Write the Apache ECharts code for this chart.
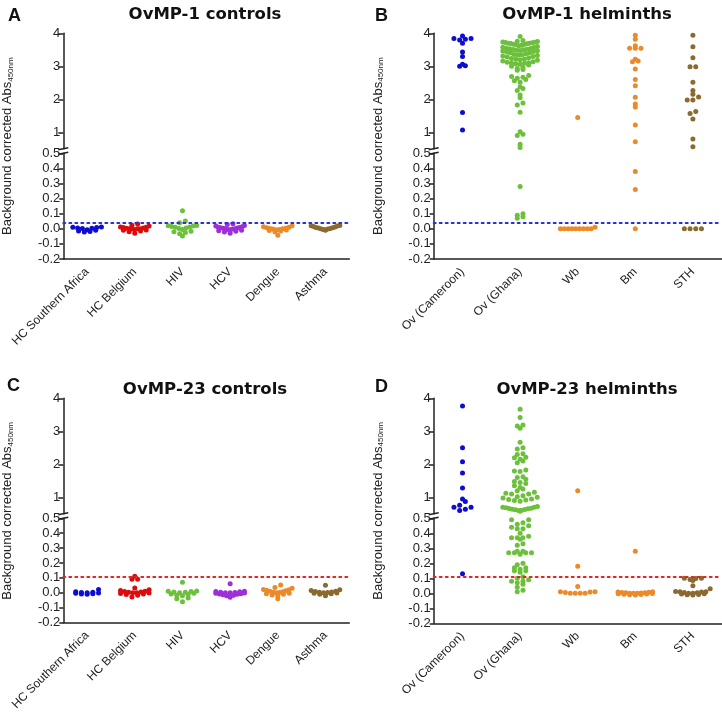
<!DOCTYPE html>
<html><head><meta charset="utf-8">
<script src="https://cdn.jsdelivr.net/npm/echarts@6/dist/echarts.min.js"></script>
<style>html,body{margin:0;padding:0;background:#fff}#c{width:722px;height:713px}</style>
</head><body><div id="c"></div>
<script>
// ---------- categories & ticks ----------
const controlCats = ['HC Southern Africa', 'HC Belgium', 'HIV', 'HCV', 'Dengue', 'Asthma'];
const helminthCats = ['Ov (Cameroon)', 'Ov (Ghana)', 'Wb', 'Bm', 'STH'];
const yUpperTicks = [1, 2, 3, 4];
const yLowerTicks = [-0.2, -0.1, 0, 0.1, 0.2, 0.3, 0.4, 0.5];
const cutoffOvMP1 = 0.045;
const cutoffOvMP23 = 0.11;

// ---------- A: OvMP-1 controls ----------
const a_hcSouthernAfrica = [0.012, 0.011, 0.009, 0.006, 0.002, -0.006, -0.014, -0.022, -0.018, -0.010, 0.004];
const a_hcBelgium = [0.032, 0.024, 0.018, 0.012, 0.010, 0.008, 0.005, 0.003, 0.001, 0.000, 0.000, -0.002, -0.005, -0.008, -0.010, -0.014, -0.020, -0.030];
const a_hiv = [0.120, 0.052, 0.040, 0.022, 0.020, 0.018, 0.015, 0.012, 0.010, 0.006, 0.002, -0.004, -0.016, -0.020, -0.024, -0.032, -0.048];
const a_hcv = [0.034, 0.028, 0.022, 0.018, 0.014, 0.011, 0.009, 0.007, 0.005, 0.003, 0.001, 0.000, -0.002, -0.004, -0.007, -0.010, -0.013, -0.017, -0.022, -0.030];
const a_dengue = [0.020, 0.014, 0.010, 0.007, 0.004, 0.002, 0.000, -0.002, -0.004, -0.006, -0.008, -0.011, -0.015, -0.020, -0.042];
const a_asthma = [0.022, 0.020, 0.018, 0.015, 0.012, 0.009, 0.007, 0.005, 0.002, 0.000, -0.002, -0.004, -0.007, -0.010];

// ---------- B: OvMP-1 helminths ----------
const b_ovCameroon = [3.92, 3.84, 3.84, 3.82, 3.80, 3.70, 3.43, 3.30, 3.06, 3.02, 3.00, 1.60, 1.07];
const b_ovGhana = [3.90,
  3.78, 3.76, 3.75, 3.74, 3.73, 3.72, 3.71, 3.70, 3.70, 3.69, 3.68, 3.67, 3.66, 3.65, 3.64,
  3.62, 3.60, 3.58, 3.57, 3.55, 3.54, 3.53, 3.52, 3.51, 3.50, 3.49, 3.48, 3.47, 3.46, 3.45,
  3.43, 3.41, 3.40, 3.38, 3.36, 3.35, 3.34, 3.33, 3.31, 3.30,
  3.28, 3.26, 3.24, 3.22, 3.21, 3.20, 3.18, 3.16, 3.14,
  3.12, 3.11, 3.10, 3.09, 3.08, 3.06,
  3.04, 3.00, 2.96, 2.93, 2.90, 2.88,
  2.72, 2.69, 2.67, 2.64, 2.60, 2.56, 2.52, 2.38, 2.33, 2.27, 2.13, 2.05, 1.89, 1.83, 1.61,
  1.02, 0.94, 0.90, 0.64, 0.54, 0.28, 0.10, 0.09, 0.08, 0.07];
const b_wb = [1.45, 0.010, 0, 0, 0, 0, 0, 0, 0, 0, 0];
const b_bm = [3.94, 3.82, 3.62, 3.55, 3.55, 3.55, 3.21, 3.16, 3.14, 2.92, 2.60, 2.41, 2.06, 1.86, 1.77, 1.22, 0.71, 0.38, 0.26, 0.00];
const b_sth = [3.94, 3.59, 3.26, 2.99, 2.99, 2.52, 2.27, 2.15, 2.07, 1.98, 1.98, 1.63, 1.57, 1.40, 0.80, 0.56, 0, 0, 0, 0];

// ---------- C: OvMP-23 controls ----------
const c_hcSouthernAfrica = [0.022, 0.006, 0.003, 0.000, -0.003, -0.006, -0.010, -0.008, -0.002, 0.001];
const c_hcBelgium = [0.111, 0.090, 0.090, 0.032, 0.020, 0.015, 0.010, 0.008, 0.005, 0.003, 0.000, 0.000, -0.002, -0.005, -0.008, -0.012, -0.016, -0.028];
const c_hiv = [0.070, 0.012, 0.010, 0.008, 0.005, 0.003, 0.000, -0.004, -0.008, -0.012, -0.016, -0.020, -0.036, -0.040, -0.060];
const c_hcv = [0.060, 0.010, 0.008, 0.006, 0.004, 0.002, 0.000, 0.000, -0.002, -0.004, -0.006, -0.008, -0.010, -0.013, -0.016, -0.020, -0.030];
const c_dengue = [0.052, 0.035, 0.030, 0.022, 0.020, 0.017, 0.014, 0.010, 0.007, 0.004, 0.002, 0.000, -0.003, -0.006, -0.010, -0.015, -0.022, -0.040];
const c_asthma = [0.050, 0.020, 0.015, 0.010, 0.008, 0.005, 0.003, 0.001, 0.000, -0.002, -0.004, -0.007, -0.010, -0.020];

// ---------- D: OvMP-23 helminths ----------
const d_ovCameroon = [3.77, 2.50, 2.08, 1.74, 1.28, 0.95, 0.87, 0.76, 0.70, 0.70, 0.64, 0.60, 0.13];
const d_ovGhana = [3.67, 3.42, 3.19, 3.16, 3.09, 2.67, 2.50, 2.46, 2.32, 2.30, 2.21, 2.20, 2.15, 2.10, 2.05,
  1.83, 1.80, 1.78, 1.62, 1.60, 1.55, 1.48, 1.45, 1.42, 1.35, 1.30, 1.25, 1.20, 1.15, 1.12, 1.10, 1.10,
  1.05, 1.02, 1.00, 0.98, 0.95, 0.93, 0.92, 0.90, 0.88,
  0.72, 0.70, 0.70, 0.68, 0.67, 0.66, 0.65, 0.64, 0.63, 0.62, 0.61, 0.60, 0.58,
  0.49, 0.49, 0.47, 0.46, 0.45, 0.44, 0.43, 0.43, 0.40, 0.38, 0.37, 0.37, 0.37, 0.36, 0.33, 0.32,
  0.28, 0.28, 0.27, 0.27, 0.27, 0.27, 0.26, 0.20, 0.19, 0.17, 0.17, 0.16, 0.15, 0.15, 0.14,
  0.11, 0.10, 0.09, 0.08, 0.08, 0.07, 0.06, 0.04, 0.02, 0.01];
const d_wb = [1.20, 0.18, 0.045, 0.010, 0.010, 0.008, 0.005, 0.000, 0.000, 0.000, 0.000];
const d_bm = [0.28, 0.010, 0.008, 0.007, 0.006, 0.004, 0.003, 0.002, 0.000, 0.000, 0.000, -0.002, -0.003, -0.004, -0.006, -0.008, -0.010, -0.012];
const d_sth = [0.100, 0.100, 0.098, 0.092, 0.085, 0.050, 0.030, 0.012, 0.010, 0.010, 0.008, 0.005, 0.003, 0.000, 0.000, -0.003, -0.005, -0.008, -0.010, -0.012];

// ---------- styles ----------
const BLUE = '#0c0cd2', RED = '#dc0c0c', GREEN = '#6cc03c', PURPLE = '#9d2fd8', ORANGE = '#ea8a2a', BROWN = '#8a6a2e';
const AXIS = '#222';
const FONT = '"Liberation Sans", Arial, sans-serif';
const DOT = 5, MAX_STEP = 5.7, ROW_H = 4.6, WIDTH_FRAC = 0.6;

const panels = [
  {letter: 'A', title: 'OvMP-1 controls', cats: controlCats,
   groups: [a_hcSouthernAfrica, a_hcBelgium, a_hiv, a_hcv, a_dengue, a_asthma],
   colors: [BLUE, RED, GREEN, PURPLE, ORANGE, BROWN], cutoff: cutoffOvMP1, cutColor: '#2f2fd6',
   L: {ax: 63.3, right: 349.3, upTop: 33.3, upBot: 148.8, loTop: 153.3, loBot: 259, titleX: 200, titleY: 1, letX: 3, letY: 2}},
  {letter: 'B', title: 'OvMP-1 helminths', cats: helminthCats,
   groups: [b_ovCameroon, b_ovGhana, b_wb, b_bm, b_sth],
   colors: [BLUE, GREEN, ORANGE, ORANGE, BROWN], cutoff: cutoffOvMP1, cutColor: '#2f2fd6',
   L: {ax: 433.7, right: 721.7, upTop: 33.3, upBot: 148.8, loTop: 153.3, loBot: 259, titleX: 582, titleY: 1, letX: 370, letY: 2}},
  {letter: 'C', title: 'OvMP-23 controls', cats: controlCats,
   groups: [c_hcSouthernAfrica, c_hcBelgium, c_hiv, c_hcv, c_dengue, c_asthma],
   colors: [BLUE, RED, GREEN, PURPLE, ORANGE, BROWN], cutoff: cutoffOvMP23, cutColor: '#d92a2a',
   L: {ax: 63.3, right: 349.3, upTop: 398.3, upBot: 513.8, loTop: 518.3, loBot: 623.3, titleX: 200, titleY: 376, letX: 2, letY: 372}},
  {letter: 'D', title: 'OvMP-23 helminths', cats: helminthCats,
   groups: [d_ovCameroon, d_ovGhana, d_wb, d_bm, d_sth],
   colors: [BLUE, GREEN, ORANGE, ORANGE, BROWN], cutoff: cutoffOvMP23, cutColor: '#d92a2a',
   L: {ax: 433.7, right: 721.7, upTop: 398.3, upBot: 513.8, loTop: 518.3, loBot: 623.3, titleX: 582, titleY: 376, letX: 370, letY: 373}}
];

// Prism-like scatter: points binned into pixel rows; each row centred on the column,
// lowest values in the middle so crowded rows curve upward at the ends
function swarm(values, toPx, maxStep, maxWidth, rowH) {
  const pts = values.map(v => ({v, y: toPx(v), x: 0}));
  const rows = {};
  pts.forEach(p => { const k = Math.floor(p.y / rowH); (rows[k] = rows[k] || []).push(p); });
  Object.values(rows).forEach(row => {
    row.sort((a, b) => b.y - a.y); // lowest value first
    const m = row.length;
    const step = m > 1 ? Math.min(maxStep, maxWidth / (m - 1)) : 0;
    const slots = [];
    for (let i = 0; i < m; i++) slots.push((i - (m - 1) / 2) * step);
    slots.sort((a, b) => (Math.abs(a) - Math.abs(b)) || (a - b));
    row.forEach((p, i) => { p.x = slots[i]; });
  });
  return pts;
}

const grid = [], xAxis = [], yAxis = [], series = [], title = [], graphic = [];

panels.forEach(P => {
  const L = P.L, n = P.cats.length, W = L.right - L.ax;
  const pxPerUnit = W / n;
  const toPx = v => v >= 0.5 ? L.upTop + (4 - v) / 3.5 * (L.upBot - L.upTop)
                             : L.loTop + (0.5 - v) / 0.7 * (L.loBot - L.loTop);
  const gU = grid.length;
  grid.push({left: L.ax, top: L.upTop, width: W, height: L.upBot - L.upTop});
  const gL = grid.length;
  grid.push({left: L.ax, top: L.loTop, width: W, height: L.loBot - L.loTop});

  const xU = xAxis.length;
  xAxis.push({type: 'value', gridIndex: gU, min: -0.5, max: n - 0.5, show: false, position: 'bottom'});
  const xL = xAxis.length;
  xAxis.push({type: 'value', gridIndex: gL, min: -0.5, max: n - 0.5, show: false, position: 'top'});
  xAxis.push({type: 'category', gridIndex: gL, data: P.cats, position: 'bottom', boundaryGap: true,
    axisLine: {onZero: false, lineStyle: {color: AXIS, width: 1.5}},
    axisTick: {alignWithLabel: true, length: 5, lineStyle: {color: AXIS, width: 1.5}},
    axisLabel: {rotate: 45, interval: 0, fontSize: 12, color: AXIS, fontFamily: FONT, margin: 11},
    splitLine: {show: false}});

  const yU = yAxis.length;
  yAxis.push({type: 'value', gridIndex: gU, min: 0.5, max: 4,
    axisLine: {show: true, onZero: false, lineStyle: {color: AXIS, width: 1.5}},
    axisTick: {show: true, length: 5, customValues: yUpperTicks, lineStyle: {color: AXIS, width: 1.5}},
    axisLabel: {customValues: yUpperTicks, fontSize: 13, color: AXIS, fontFamily: FONT, margin: 3},
    splitLine: {show: false}});
  const yL = yAxis.length;
  yAxis.push({type: 'value', gridIndex: gL, min: -0.2, max: 0.5,
    axisLine: {show: true, onZero: false, lineStyle: {color: AXIS, width: 1.5}},
    axisTick: {show: true, length: 4, customValues: yLowerTicks, lineStyle: {color: AXIS, width: 1.5}},
    axisLabel: {customValues: yLowerTicks, fontSize: 13, color: AXIS, fontFamily: FONT, margin: 3,
      formatter: v => (Math.abs(v) < 1e-9 ? 0 : v).toFixed(1)},
    splitLine: {show: false}});

  P.groups.forEach((vals, ci) => {
    const pts = swarm(vals, toPx, MAX_STEP, WIDTH_FRAC * pxPerUnit, ROW_H);
    const up = [], lo = [];
    pts.forEach(p => { const pt = [ci + p.x / pxPerUnit, p.v]; (p.v >= 0.5 ? up : lo).push(pt); });
    const base = {type: 'scatter', symbolSize: DOT, itemStyle: {color: P.colors[ci], opacity: 1}, silent: true, z: 3};
    series.push(Object.assign({}, base, {xAxisIndex: xU, yAxisIndex: yU, data: up}));
    const s = Object.assign({}, base, {xAxisIndex: xL, yAxisIndex: yL, data: lo});
    if (ci === 0) {
      s.markLine = {silent: true, symbol: 'none', label: {show: false}, animation: false,
        lineStyle: {color: P.cutColor, type: [2, 4], width: 2, cap: 'round'},
        data: [{yAxis: P.cutoff}]};
    }
    series.push(s);
  });

  title.push({text: P.title, left: L.titleX, top: L.titleY, textAlign: 'center',
    textStyle: {fontFamily: '"DejaVu Sans", Verdana, sans-serif', fontWeight: 'bold', fontSize: 16.5, color: '#111'}});
  title.push({text: P.letter, left: L.letX, top: L.letY,
    textStyle: {fontFamily: FONT, fontWeight: 'bold', fontSize: 18, color: '#111'}});

  // y axis name (rotated, with subscript)
  graphic.push({type: 'text', x: L.ax - 57, y: (L.upTop + L.loBot) / 2, rotation: Math.PI / 2,
    style: {text: '{a|Background corrected Abs}{b|450nm}', align: 'center', verticalAlign: 'middle',
      rich: {a: {fontSize: 13, fontFamily: FONT, fill: AXIS, lineHeight: 16, verticalAlign: 'bottom'},
             b: {fontSize: 8, fontFamily: FONT, fill: AXIS, lineHeight: 12, verticalAlign: 'bottom'}}}});
  // axis break marks
  [L.upBot, L.loTop].forEach(y => {
    graphic.push({type: 'line', shape: {x1: L.ax - 5, y1: y + 1, x2: L.ax + 5, y2: y - 1},
      style: {stroke: AXIS, lineWidth: 1.5}});
  });
});

const chart = echarts.init(document.getElementById('c'));
chart.setOption({animation: false, backgroundColor: '#fff', title, grid, xAxis, yAxis, series, graphic});
</script>
</body></html>
